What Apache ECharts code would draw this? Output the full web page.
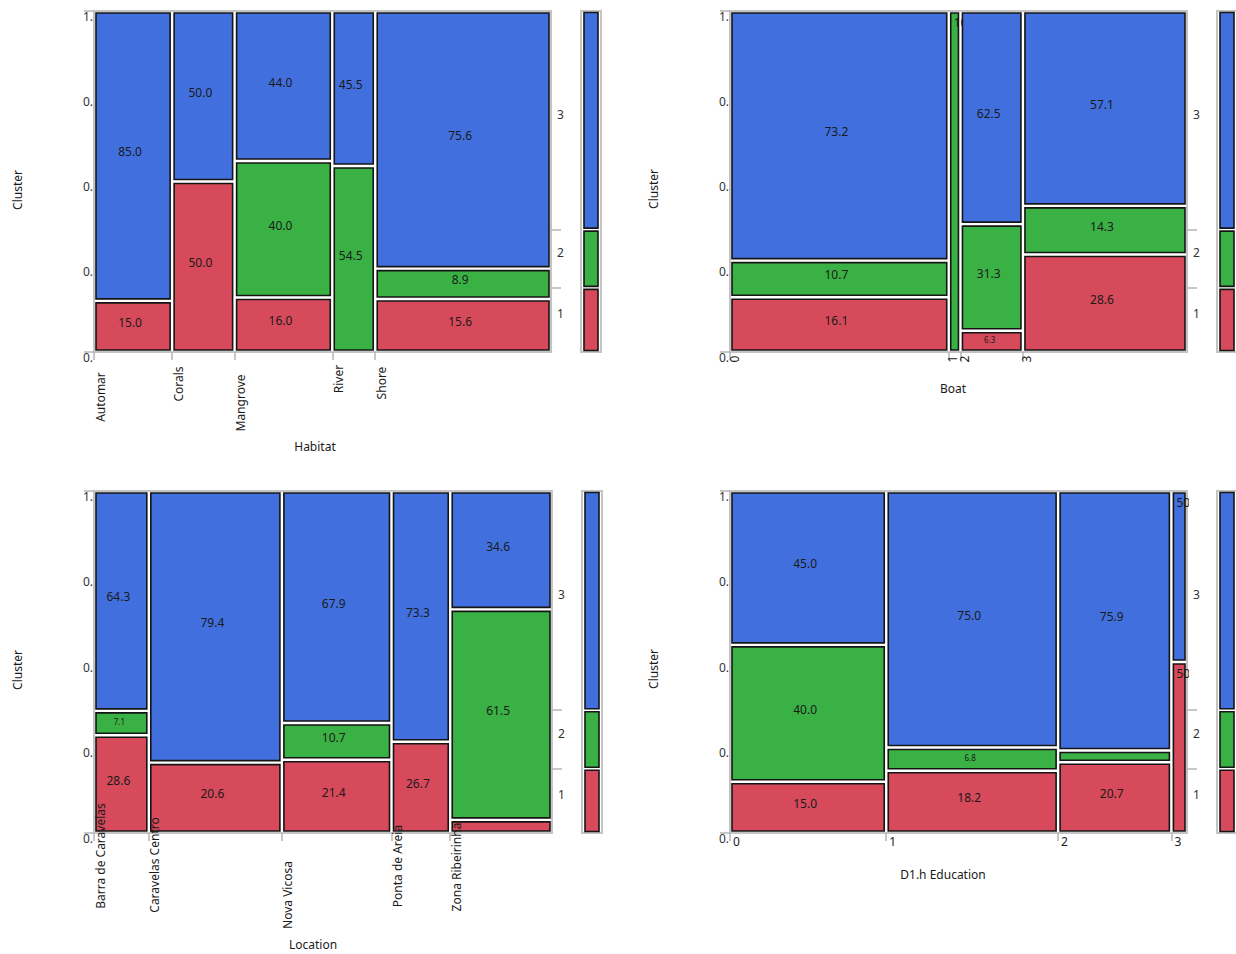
<!DOCTYPE html>
<html><head><meta charset="utf-8">
<script src="https://cdn.jsdelivr.net/npm/echarts@6/dist/echarts.min.js"></script>
<style>html,body{margin:0;padding:0;background:#fff}#c{width:1236px;height:954px}</style>
</head><body><div id="c"></div>
<script>
// ---------------- data ----------------
const clusterNames = ['1', '2', '3'];

const habitatCats = ['Automar', 'Corals', 'Mangrove', 'River', 'Shore'];
const habitatC1 = [3, 8, 4, 0, 7];
const habitatC2 = [0, 0, 10, 6, 4];
const habitatC3 = [17, 8, 11, 5, 34];

const boatCats = ['0', '1', '2', '3'];
const boatC1 = [9, 0, 1, 12];
const boatC2 = [6, 3, 5, 6];
const boatC3 = [41, 0, 10, 24];

const locationCats = ['Barra de Caravelas', 'Caravelas Centro', 'Nova Vicosa', 'Ponta de Areia', 'Zona Ribeirinha'];
const locationC1 = [4, 7, 6, 4, 1];
const locationC2 = [1, 0, 3, 0, 16];
const locationC3 = [9, 27, 19, 11, 9];

const educationCats = ['0', '1', '2', '3'];
const educationC1 = [6, 8, 6, 2];
const educationC2 = [16, 3, 1, 0];
const educationC3 = [18, 33, 22, 2];

const yTickLabels = ['0.0', '0.25', '0.5', '0.75', '1.0'];

// ---------------- style / layout ----------------
const COLORS = ['#D64A5B', '#3AB144', '#4170DE'];
const FONT = 'Noto Sans';
const TXT = '#1a1a1a';
const FRAME = '#c4c4c4';
const TICK = '#b4b4b4';

const panels = [
  { title: 'Habitat', cats: habitatCats, c: [habitatC1, habitatC2, habitatC3],
    grid: { left: 94, top: 11, width: 457, height: 341 }, mgrid: { left: 581, top: 11, width: 20, height: 341 },
    rotate: true, labelDx: 6, labelDy: [45, 32, 51, 27, 31], titlePos: [315, 446], yTitle: [17, 190] },
  { title: 'Boat', cats: boatCats, c: [boatC1, boatC2, boatC3],
    grid: { left: 730, top: 11, width: 457, height: 341 }, mgrid: { left: 1217, top: 11, width: 20, height: 341 },
    rotate: true, labelDx: 4, labelDy: [7, 7, 7, 7], titlePos: [953, 388], yTitle: [653, 189] },
  { title: 'Location', cats: locationCats, c: [locationC1, locationC2, locationC3],
    grid: { left: 94, top: 491, width: 458, height: 342 }, mgrid: { left: 582, top: 491, width: 20, height: 342 },
    rotate: true, labelDx: 6, labelDy: [23, 32, 62, 33, 34], titlePos: [313, 944], yTitle: [17, 670] },
  { title: 'D1.h Education', cats: educationCats, c: [educationC1, educationC2, educationC3],
    grid: { left: 730, top: 491, width: 457, height: 342 }, mgrid: { left: 1217, top: 491, width: 20, height: 342 },
    rotate: false, labelDx: 3, labelDy: [8, 8, 8, 8], titlePos: [943, 874], yTitle: [653, 669] }
];

function mosaicRender(params, api) {
  const x0 = api.value(0), x1 = api.value(1), y0 = api.value(2), y1 = api.value(3);
  const pct = api.value(4), k = api.value(5);
  const a = api.coord([x0, y1]), b = api.coord([x1, y0]);
  const ins = 2;
  const x = a[0] + ins, y = a[1] + ins, w = b[0] - a[0] - 2 * ins, h = b[1] - a[1] - 2 * ins;
  const children = [{ type: 'rect', shape: { x, y, width: w, height: h },
    style: { fill: COLORS[k], stroke: '#151515', lineWidth: 1.6 } }];
  const txt = pct.toFixed(1);
  if (w < 20) {
    children.push({ type: 'group', clipPath: { type: 'rect', shape: { x: x, y: y, width: w + 4, height: h } },
      children: [{ type: 'text', x: x + 3, y: y + 9,
        style: { text: txt, fontSize: 12, fontFamily: FONT, fill: TXT, align: 'left', verticalAlign: 'middle' } }] });
  } else if (h >= 25) {
    children.push({ type: 'text', x: x + w / 2 - 3, y: y + h / 2 - 4,
      style: { text: txt, fontSize: 12, fontFamily: FONT, fill: TXT, align: 'center', verticalAlign: 'middle' } });
  } else if (h >= 15) {
    children.push({ type: 'text', x: x + w / 2 - 2, y: y + h / 2 - 2,
      style: { text: txt, fontSize: 8, fontFamily: FONT, fill: TXT, align: 'center', verticalAlign: 'middle' } });
  }
  return { type: 'group', children };
}

function marginRender(params, api) {
  const y0 = api.value(0), y1 = api.value(1), k = api.value(2);
  const a = api.coord([0, y1]), b = api.coord([1, y0]);
  const x = a[0] + 3, y = a[1] + 1.5, w = b[0] - a[0] - 6, h = b[1] - a[1] - 3;
  return { type: 'rect', shape: { x, y, width: w, height: h },
    style: { fill: COLORS[k], stroke: '#151515', lineWidth: 1.6 } };
}

const grids = [], xAxes = [], yAxes = [], series = [], graphics = [];

panels.forEach((p) => {
  const n = p.cats.map((_, i) => p.c[0][i] + p.c[1][i] + p.c[2][i]);
  const N = n.reduce((s, v) => s + v, 0);
  const starts = []; let cum = 0;
  n.forEach(v => { starts.push(cum); cum += v; });
  const tot = [0, 1, 2].map(k => p.c[k].reduce((s, v) => s + v, 0));
  const bounds = [0, tot[0] / N, (tot[0] + tot[1]) / N, 1];
  const H = p.grid.height;
  const rightLabelVals = [0, 1, 2].map(k => (bounds[k] + bounds[k + 1]) / 2 + 6 / H);

  const gi = grids.length;
  grids.push(Object.assign({ show: true, borderColor: FRAME, borderWidth: 2, backgroundColor: 'transparent', outerBoundsMode: 'none' }, p.grid));
  grids.push(Object.assign({ show: true, borderColor: FRAME, borderWidth: 2, backgroundColor: 'transparent', outerBoundsMode: 'none' }, p.mgrid));

  const xi = xAxes.length;
  xAxes.push({ type: 'value', gridIndex: gi, min: 0, max: N, axisLine: { show: false }, splitLine: { show: false },
    axisLabel: { show: false }, axisTick: { show: true, customValues: starts, length: 8, lineStyle: { color: TICK, width: 1.5 } } });
  xAxes.push({ type: 'value', gridIndex: gi + 1, min: 0, max: 1, show: false });

  const yi = yAxes.length;
  yAxes.push({ type: 'value', gridIndex: gi, min: 0, max: 1, interval: 0.25, axisLine: { show: false }, splitLine: { show: false },
    axisTick: { show: true, customValues: [0, 1], length: 10, lineStyle: { color: TICK, width: 1.5 } },
    axisLabel: { formatter: v => yTickLabels[Math.round(v * 4)], width: 13, overflow: 'truncate', ellipsis: '',
      verticalAlign: 'top', lineHeight: 10, margin: 1, color: '#333', fontFamily: FONT, fontSize: 12 } });
  yAxes.push({ type: 'value', gridIndex: gi, position: 'right', min: 0, max: 1, axisLine: { show: false }, splitLine: { show: false },
    axisTick: { show: true, customValues: [bounds[1], bounds[2]], length: 10, lineStyle: { color: TICK, width: 1.5 } },
    axisLabel: { customValues: rightLabelVals, formatter: v => {
        let best = 0; rightLabelVals.forEach((m, k) => { if (Math.abs(m - v) < Math.abs(rightLabelVals[best] - v)) best = k; });
        return clusterNames[best];
      }, margin: 6, color: '#333', fontFamily: FONT, fontSize: 12 } });
  yAxes.push({ type: 'value', gridIndex: gi + 1, min: 0, max: 1, show: false });

  const cells = [];
  p.cats.forEach((_, i) => {
    let acc = 0;
    [0, 1, 2].forEach(k => {
      const v = p.c[k][i];
      if (v > 0) cells.push([starts[i], starts[i] + n[i], acc / n[i], (acc + v) / n[i], v / n[i] * 100, k]);
      acc += v;
    });
  });
  series.push({ type: 'custom', xAxisIndex: xi, yAxisIndex: yi, clip: false, silent: true, animation: false,
    data: cells, renderItem: mosaicRender });

  const marg = [0, 1, 2].map(k => [bounds[k], bounds[k + 1], k]);
  series.push({ type: 'custom', xAxisIndex: xi + 1, yAxisIndex: yi + 2, clip: false, silent: true, animation: false,
    data: marg, renderItem: marginRender });

  const labelData = starts.map((s, i) => [s, i]);
  series.push({ type: 'custom', xAxisIndex: xi, yAxisIndex: yi, clip: false, silent: true, animation: false, z: 5,
    data: labelData, renderItem: (params, api) => {
      const pt = api.coord([api.value(0), 0]);
      const i = api.value(1);
      return { type: 'text', x: pt[0] + p.labelDx, y: pt[1] + p.labelDy[i], rotation: p.rotate ? Math.PI / 2 : 0,
        style: { text: p.cats[i], fontSize: 12, fontFamily: FONT, fill: TXT,
          align: p.rotate ? 'center' : 'left', verticalAlign: 'middle' } };
    } });

  graphics.push({ type: 'text', x: p.titlePos[0], y: p.titlePos[1],
    style: { text: p.title, fontSize: 12, fontFamily: FONT, fill: TXT, align: 'center', verticalAlign: 'middle' } });
  graphics.push({ type: 'text', x: p.yTitle[0], y: p.yTitle[1], rotation: Math.PI / 2,
    style: { text: 'Cluster', fontSize: 12, fontFamily: FONT, fill: TXT, align: 'center', verticalAlign: 'middle' } });
});

const chart = echarts.init(document.getElementById('c'), null, { renderer: 'svg' });
chart.setOption({
  animation: false,
  backgroundColor: '#fff',
  grid: grids, xAxis: xAxes, yAxis: yAxes, series: series, graphic: graphics
});
</script>
</body></html>
